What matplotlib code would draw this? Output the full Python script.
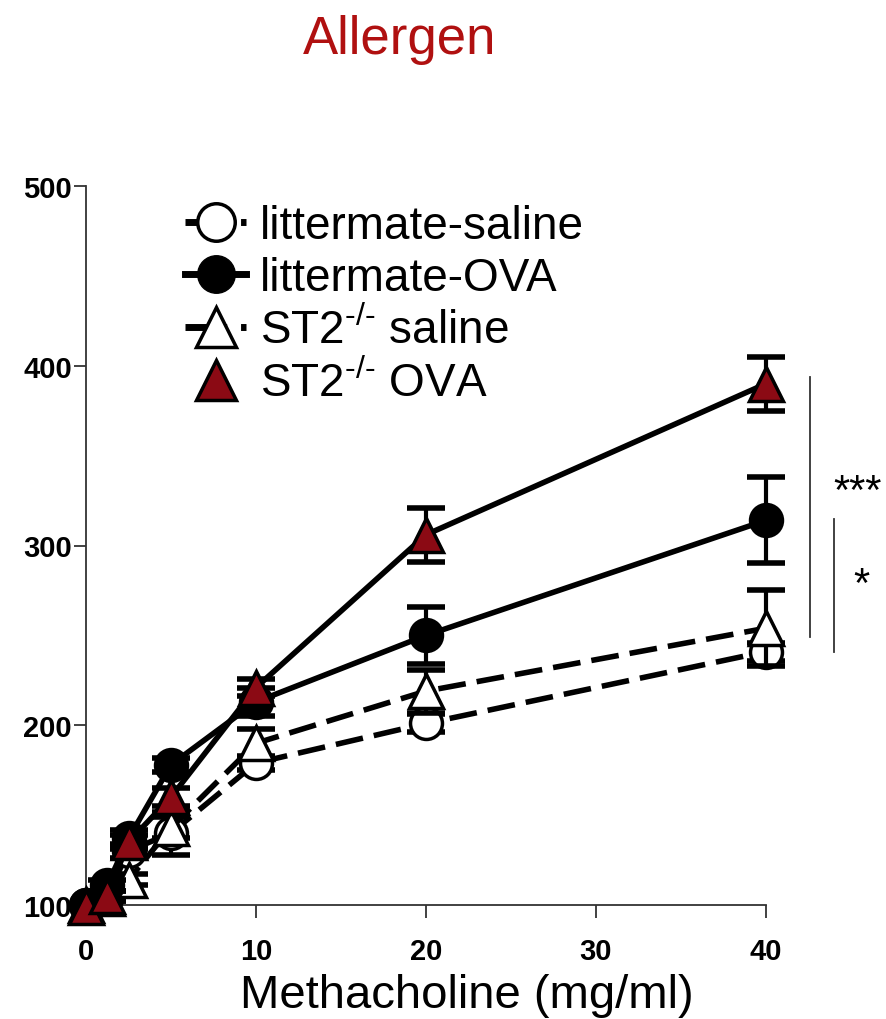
import numpy as np
import matplotlib
matplotlib.use("Agg")
import matplotlib.pyplot as plt
from matplotlib.lines import Line2D

plt.rcParams['font.family'] = ['Liberation Sans', 'DejaVu Sans']
plt.rcParams['mathtext.fontset'] = 'custom'
plt.rcParams['mathtext.rm'] = 'Liberation Sans'

# methacholine doses (mg/ml)
dose = [0, 1.25, 2.5, 5, 10, 20, 40]

lm_saline = [100, 105, 130, 140, 179, 201, 241]
lm_saline_err = [0, 2, 4, 12, 4, 5, 5]
lm_ova = [100, 111, 137, 178, 213, 250, 314]
lm_ova_err = [0, 3, 5, 4, 8, 16, 24]
st2_saline = [100, 104, 114, 143, 190, 219, 254]
st2_saline_err = [0, 2, 3, 6, 8, 12, 21]
st2_ova = [99, 105, 135, 160, 221, 306, 390]
st2_ova_err = [0, 3, 4, 5, 5, 15, 15]

labels = ['littermate-saline', 'littermate-OVA',
          r'ST2$^{\text{-/-}}$ saline', r'ST2$^{\text{-/-}}$ OVA']

red = '#8B0A14'
lw = 4
ms = 23
cap = 14

fig = plt.figure(figsize=(8.86, 10.2), dpi=100)
ax = fig.add_axes([86/886, 114/1020, 680/886, 719/1020])

series = [
    (lm_saline, lm_saline_err, 'o', 'white', (5, 2), 3),
    (st2_saline, st2_saline_err, '^', 'white', (5, 2), 4),
    (lm_ova, lm_ova_err, 'o', 'black', None, 5),
    (st2_ova, st2_ova_err, '^', red, None, 6),
]
for vals, err, mk, fc, dash, z in series:
    ax.errorbar(dose, vals, yerr=err, fmt='none', ecolor='black',
                elinewidth=3, capsize=cap, capthick=4, zorder=z, clip_on=False)
    line, = ax.plot(dose, vals, color='black', lw=lw, marker=mk,
                    markersize=ms if mk == 'o' else ms + 2,
                    markerfacecolor=fc, markeredgecolor='black',
                    markeredgewidth=2.5, zorder=z, clip_on=False)
    if dash:
        line.set_dashes(dash)

ax.set_xlim(0, 40)
ax.set_ylim(100, 500)
ax.set_xticks([0, 10, 20, 30, 40])
ax.set_yticks([100, 200, 300, 400, 500])
for s in ['top', 'right']:
    ax.spines[s].set_visible(False)
for s in ['left', 'bottom']:
    ax.spines[s].set_color('#333333')
    ax.spines[s].set_linewidth(1.3)
ax.tick_params(axis='y', direction='out', length=9, width=1.3, color='#333333', pad=1)
ax.tick_params(axis='x', direction='out', length=9, width=1.3, color='#333333', pad=14)
for t in ax.get_xticklabels() + ax.get_yticklabels():
    t.set_fontsize(21)
    t.set_fontweight('bold')

ax.set_xlabel('Methacholine (mg/ml)', fontsize=34)
ax.xaxis.set_label_coords(0.56, -0.095)

# significance brackets
ax.plot([42.6, 42.6], [249, 394], color='#333333', lw=1.3, clip_on=False)
ax.plot([44.0, 44.0], [241, 315], color='#333333', lw=1.3, clip_on=False)
ax.text(45.4, 330, '***', fontsize=30, ha='center', va='center')
ax.text(45.6, 278, '*', fontsize=30, ha='center', va='center')

lms = 27
handles = [
    Line2D([], [], color='black', lw=lw + 1, dashes=(6, 2), marker='o', markersize=lms,
           markerfacecolor='white', markeredgecolor='black', markeredgewidth=2.5),
    Line2D([], [], color='black', lw=lw + 1, marker='o', markersize=lms,
           markerfacecolor='black', markeredgecolor='black'),
    Line2D([], [], color='black', lw=lw + 1, dashes=(6, 2), marker='^', markersize=lms + 2,
           markerfacecolor='white', markeredgecolor='black', markeredgewidth=2.5),
    Line2D([], [], color='none', marker='^', markersize=lms + 2,
           markerfacecolor=red, markeredgecolor='black', markeredgewidth=2.5),
]
ax.legend(handles, labels, loc='upper left', bbox_to_anchor=(0.145, 0.975),
          frameon=False, fontsize=33, handlelength=1.35, handletextpad=0.3,
          labelspacing=0.17, borderpad=0, borderaxespad=0)

fig.text(400/886, 1 - 40/1020, 'Allergen', color='#B01010', fontsize=38,
         ha='center', va='center')

fig.savefig('out.png', dpi=100)
